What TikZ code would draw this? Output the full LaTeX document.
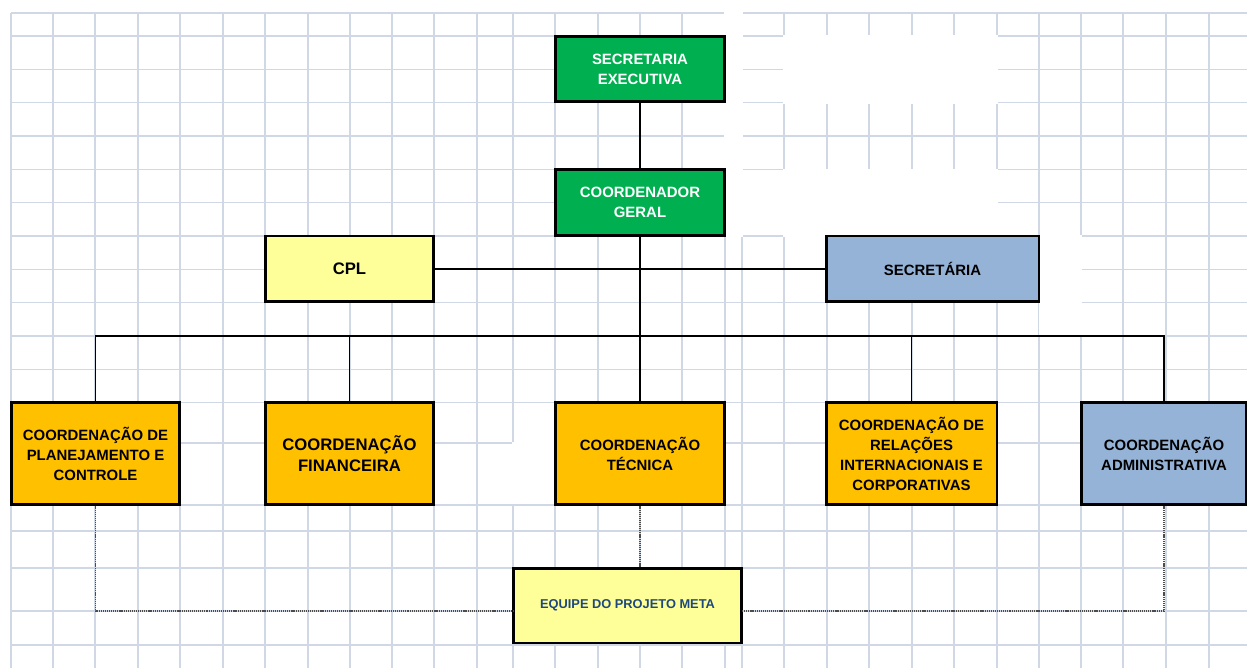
\documentclass[tikz,border=0pt]{standalone}
\usepackage{fontspec}
\setmainfont{Liberation Sans}
\usepackage{xcolor}
\usetikzlibrary{positioning,calc}
\definecolor{gridblue}{RGB}{208,215,229}
\definecolor{boxgreen}{RGB}{0,176,80}
\definecolor{boxorange}{RGB}{255,192,0}
\definecolor{boxyellow}{RGB}{255,255,153}
\definecolor{boxblue}{RGB}{149,179,215}
\definecolor{textnavy}{RGB}{31,73,125}
\tikzset{
  gridline/.style={gridblue,line width=0.7pt},
  unitbox/.style={draw=black,line width=1.7pt,align=center,inner sep=0pt,
    font=\bfseries\fontsize{8.5}{11.4}\selectfont},
  topbox/.style={unitbox,fill=boxgreen,text=white,minimum width=3.4cm,minimum height=1.31cm},
  staffbox/.style={unitbox,minimum height=1.32cm},
  coordbox/.style={unitbox,fill=boxorange,minimum height=2.06cm},
  bigtext/.style={font=\bfseries\fontsize{9.5}{12}\selectfont},
  link/.style={line width=0.9pt},
  dotlink/.style={black!70,line width=0.75pt,dash pattern=on 0.6pt off 0.5pt}
}

\begin{document}
\begin{tikzpicture}[x=0.02cm,y=-0.02cm]
  \useasboundingbox[fill=white] (0,0) rectangle (1247,668);

  % spreadsheet grid
  \foreach \gx in {11,53,95,138,180,223,265,308,350,392,434,477,513,555,598,640,682,725,742,784,827,869,912,954,997,1039,1081,1123,1166,1209}
    \draw[gridline] (\gx,13) -- (\gx,668);
  \foreach \gy in {13,36,69.5,102.5,136,169.5,202.5,236,269.5,302.5,336,369.5,402.5,443,505,531,568,611,645}
    \draw[gridline] (11,\gy) -- (1247,\gy);
  \fill[white] (724,0) rectangle (743,237);
  \fill[white] (783,35) rectangle (998,104);
  \fill[white] (783,169) rectangle (998,237);
  \fill[white] (743,171) rectangle (785,235);
  \fill[white] (1038.5,235) rectangle (1082,335);
  \fill[white] (512,442.5) rectangle (556,504);

  \node[topbox] (sexec) at (640,69) {SECRETARIA\\EXECUTIVA};
  \node[topbox] (cgeral) at (640,202.5) {COORDENADOR\\GERAL};
  \node[staffbox,fill=boxyellow,bigtext,minimum width=3.38cm] (cpl) at (349.5,269) {CPL};
  \node[staffbox,fill=boxblue,minimum width=4.26cm] (secr) at (932.5,269) {SECRETÁRIA};

  \node[coordbox,minimum width=3.38cm] (plan) at (95.5,453.5) {COORDENAÇÃO DE\\PLANEJAMENTO E\\CONTROLE};
  \node[coordbox,bigtext,minimum width=3.38cm] (fin) at (349.5,453.5) {COORDENAÇÃO\\FINANCEIRA};
  \node[coordbox,minimum width=3.4cm] (tec) at (640,453.5) {COORDENAÇÃO\\TÉCNICA};
  \node[coordbox,minimum width=3.42cm] (rel) at (911.5,453.5) {COORDENAÇÃO DE\\RELAÇÕES\\INTERNACIONAIS E\\CORPORATIVAS};
  \node[coordbox,fill=boxblue,minimum width=3.3cm] (adm) at (1164,453.5) {COORDENAÇÃO\\ADMINISTRATIVA};

  \node[unitbox,fill=boxyellow,text=textnavy,minimum width=4.58cm,minimum height=1.5cm,
    font=\bfseries\fontsize{7.3}{9}\selectfont] (equipe) at (627.5,605.5) {EQUIPE DO PROJETO META};

  \coordinate (bus) at (640,336);
  \coordinate (eqL) at (513,611);
  \coordinate (eqR) at (742,611);

  \draw[link] (sexec) -- (cgeral);
  \draw[link] (cgeral) -- (tec);
  \draw[link] (cpl) -- (secr);
  \draw[link] (plan.north) |- (bus) -| (adm.north);
  \draw[link] (fin.north) -- (fin.north |- bus);
  \draw[link] (rel.north) -- (rel.north |- bus);

  \draw[dotlink] (plan.south) |- (eqL);
  \draw[dotlink] (tec.south) -- (tec.south |- equipe.north);
  \draw[dotlink] (adm.south) |- (eqR);
\end{tikzpicture}
\end{document}
